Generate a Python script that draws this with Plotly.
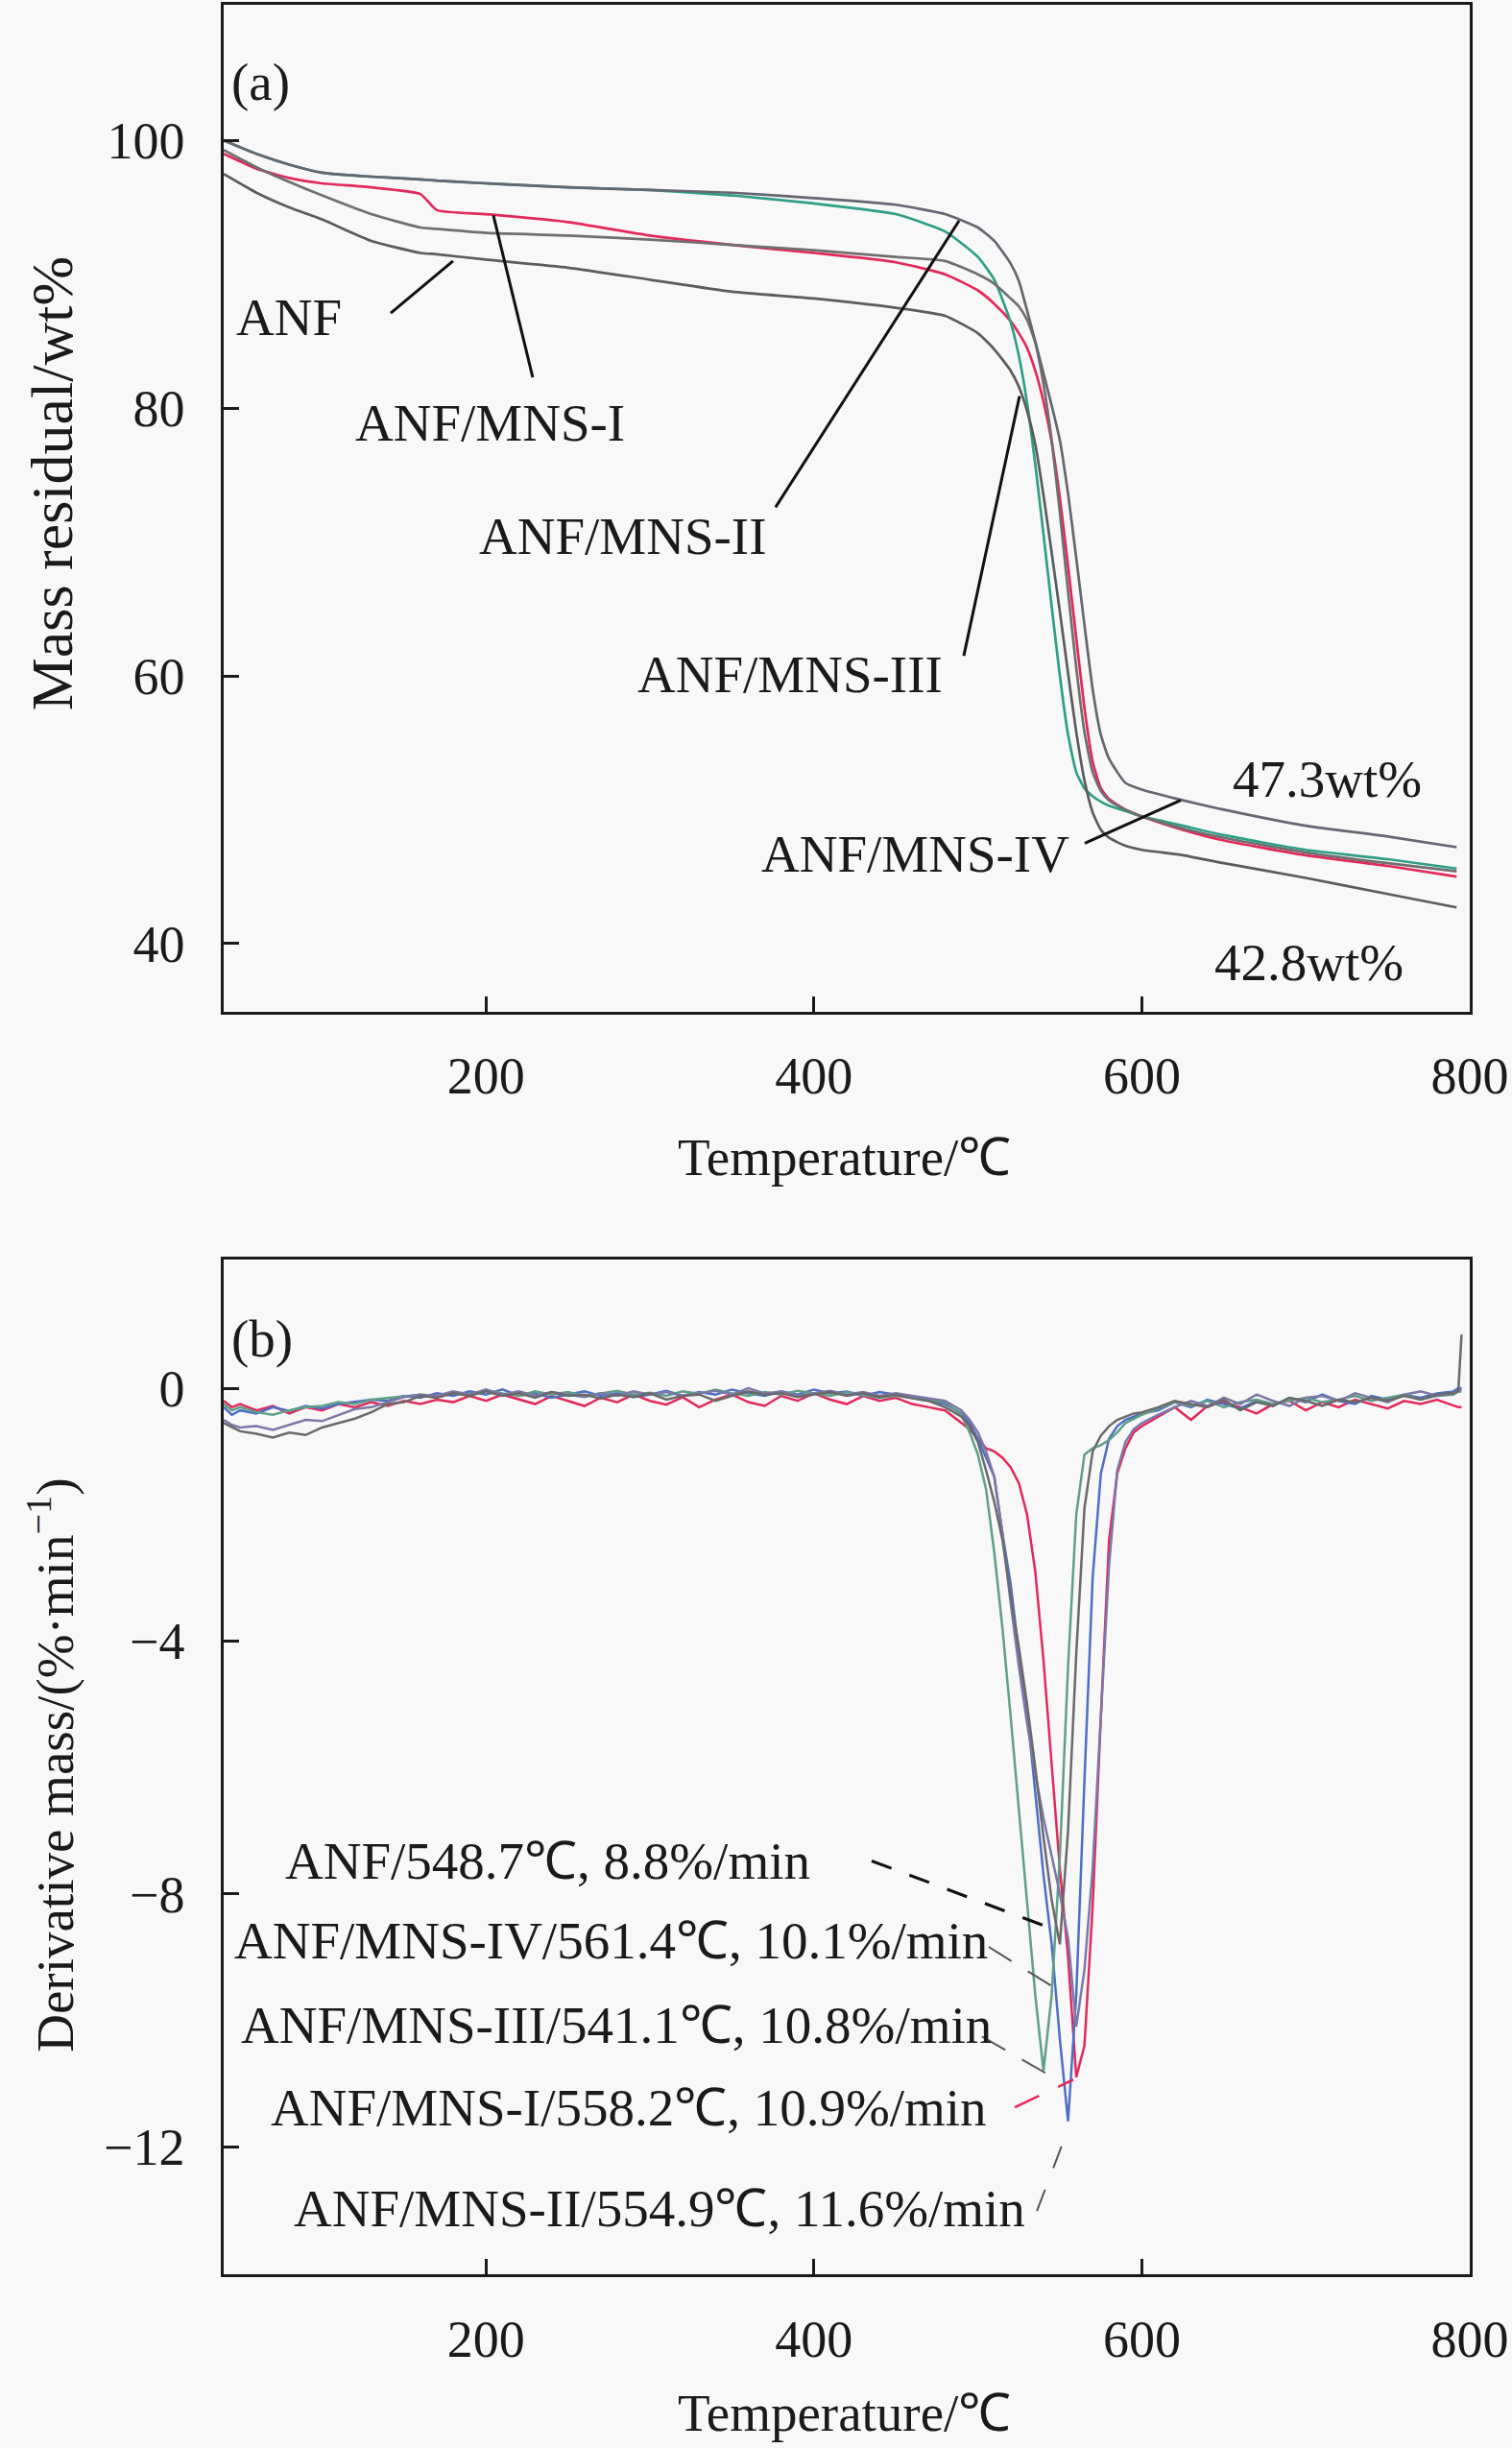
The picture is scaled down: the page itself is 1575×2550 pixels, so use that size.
import plotly.graph_objects as go

# ---------------- (a) TGA data ----------------
tga_temp = [40, 60, 80, 100, 130, 160, 170, 200, 250, 300, 350, 400, 450, 480, 500, 510, 520,
            525, 530, 535, 540, 545, 550, 555, 560, 565, 570, 575, 580, 590, 600, 625, 650, 700, 750, 792]
tga_anf = [97.5, 96.1, 95.0, 94.1, 92.5, 91.6, 91.5, 91.1, 90.5, 89.6, 88.7, 88.2, 87.5, 86.9, 85.6, 84.4, 82.8,
           81.6, 79.8, 77.3, 73.5, 69.2, 64.8, 60.2, 55.8, 52.2, 49.8, 48.5, 47.9, 47.3, 47.0, 46.6, 46.0, 44.9, 43.7, 42.7]
tga_mns1 = [99.0, 97.9, 97.2, 96.8, 96.5, 96.0, 94.8, 94.5, 93.9, 92.9, 92.2, 91.6, 90.9, 90.0, 88.8, 87.8, 86.5,
            85.6, 84.5, 82.8, 80.5, 77.5, 73.3, 68.2, 62.8, 57.6, 53.6, 51.6, 50.8, 50.0, 49.5, 48.5, 47.7, 46.6, 45.8, 45.0]
tga_mns2 = [99.3, 98.0, 96.9, 95.9, 94.5, 93.5, 93.4, 93.1, 92.9, 92.6, 92.2, 91.8, 91.3, 91.0, 90.0, 89.3, 88.2,
            87.6, 86.6, 84.9, 81.8, 77.6, 72.2, 66.3, 60.6, 55.8, 52.8, 51.4, 50.7, 50.0, 49.5, 48.6, 47.9, 46.8, 46.0, 45.4]
tga_mns3 = [100.0, 99.0, 98.2, 97.6, 97.3, 97.1, 97.0, 96.8, 96.5, 96.3, 95.9, 95.3, 94.5, 93.2, 91.3, 89.6, 86.4,
            83.9, 80.4, 75.8, 70.6, 65.2, 60.0, 55.6, 52.8, 51.6, 51.0, 50.6, 50.3, 49.9, 49.5, 48.8, 48.1, 47.0, 46.3, 45.6]
tga_mns4 = [100.0, 99.0, 98.2, 97.6, 97.3, 97.1, 97.0, 96.8, 96.5, 96.3, 96.1, 95.7, 95.2, 94.5, 93.5, 92.5, 90.8,
            89.5, 87.3, 85.0, 82.6, 80.2, 77.6, 73.6, 68.8, 63.8, 59.0, 55.6, 53.8, 52.0, 51.5, 50.7, 50.0, 48.8, 48.0, 47.2]

# ---------------- (b) DTG data ----------------
dtg_temp = ([40, 45, 50] + list(range(60, 480, 10)) + [480, 490] +
            list(range(495, 605, 5)) + list(range(610, 800, 10)) + [793, 795])
dtg_anf = ([-0.55, -0.62, -0.68, -0.72, -0.78, -0.70, -0.74, -0.62, -0.55, -0.48, -0.38, -0.25, -0.22] +
           [-0.12, -0.15, -0.08, -0.12, -0.05, -0.12, -0.08, -0.15, -0.06, -0.12, -0.10, -0.16, -0.10, -0.14, -0.08, -0.18,
            -0.12, -0.10, -0.20, -0.12, -0.05, -0.10, -0.08, -0.14, -0.10, -0.06, -0.12, -0.08, -0.14, -0.10, -0.16, -0.20] +
           [-0.30, -0.45] +
           [-0.6, -0.85, -1.3, -1.8, -2.4, -3.3, -4.1, -5.0, -6.0, -7.1, -8.1, -8.8, -7.0, -4.2, -1.9, -1.0, -0.75, -0.6,
            -0.5, -0.45, -0.4, -0.38] +
           [-0.30, -0.20, -0.25, -0.30, -0.18, -0.35, -0.22, -0.28, -0.15, -0.20, -0.28, -0.18, -0.22, -0.15, -0.20, -0.12,
            -0.18, -0.10, -0.08] +
           [-0.05, 0.85])
dtg_mns1 = ([-0.2, -0.3, -0.25, -0.35, -0.28, -0.4, -0.3, -0.35, -0.25, -0.3, -0.22, -0.28, -0.2] +
            [-0.25, -0.18, -0.22, -0.12, -0.2, -0.1, -0.18, -0.25, -0.12, -0.2, -0.28, -0.15, -0.22, -0.1, -0.2, -0.26,
             -0.14, -0.3, -0.18, -0.1, -0.22, -0.28, -0.12, -0.2, -0.08, -0.18, -0.25, -0.12, -0.2, -0.15, -0.25, -0.3] +
            [-0.35, -0.55] +
            [-0.65, -0.8, -0.95, -1.0, -1.1, -1.25, -1.5, -2.0, -2.9, -4.3, -5.9, -7.6, -9.0, -10.9, -10.4, -8.2, -5.2,
             -2.4, -1.35, -0.95, -0.7, -0.6] +
            [-0.45, -0.3, -0.5, -0.28, -0.22, -0.3, -0.4, -0.25, -0.2, -0.35, -0.22, -0.3, -0.18, -0.25, -0.32, -0.2,
             -0.25, -0.18, -0.28] +
            [-0.3, -0.3])
dtg_mns2 = ([-0.3, -0.42, -0.35, -0.4, -0.3, -0.36, -0.28, -0.32, -0.25, -0.22, -0.18, -0.2, -0.12] +
            [-0.15, -0.08, -0.12, -0.05, -0.1, -0.02, -0.12, -0.08, -0.15, -0.1, -0.05, -0.12, -0.08, -0.14, -0.1, -0.04,
             -0.12, -0.06, -0.1, -0.02, -0.08, -0.12, -0.05, -0.1, -0.02, -0.08, -0.05, -0.12, -0.06, -0.1, -0.15, -0.2] +
            [-0.25, -0.4] +
            [-0.55, -0.8, -1.1, -1.4, -2.3, -3.1, -4.2, -5.1, -6.4, -7.7, -8.8, -10.3, -11.6, -9.6, -6.2, -3.0, -1.35,
             -0.8, -0.6, -0.5, -0.45, -0.4] +
            [-0.35, -0.22, -0.3, -0.18, -0.25, -0.32, -0.2, -0.28, -0.15, -0.22, -0.1, -0.2, -0.25, -0.12, -0.18, -0.1,
             -0.15, -0.08, -0.05] +
            [0.0, 0.0])
dtg_mns3 = ([-0.25, -0.35, -0.3, -0.38, -0.42, -0.35, -0.3, -0.28, -0.22, -0.25, -0.18, -0.15, -0.12] +
            [-0.1, -0.14, -0.06, -0.1, -0.03, -0.08, -0.12, -0.05, -0.1, -0.06, -0.12, -0.08, -0.04, -0.1, -0.07, -0.12,
             -0.05, -0.09, -0.02, -0.08, -0.12, -0.06, -0.1, -0.04, -0.08, -0.12, -0.06, -0.1, -0.15, -0.12, -0.15, -0.18] +
            [-0.22, -0.42] +
            [-0.7, -1.05, -1.6, -2.6, -3.8, -5.2, -6.7, -8.2, -9.6, -10.8, -9.6, -7.4, -4.4, -2.0, -1.05, -0.95, -0.9,
             -0.82, -0.7, -0.55, -0.48, -0.42] +
            [-0.32, -0.22, -0.28, -0.2, -0.3, -0.22, -0.18, -0.25, -0.2, -0.15, -0.22, -0.18, -0.12, -0.2, -0.15, -0.1,
             -0.18, -0.12, -0.1] +
            [-0.05, -0.05])
dtg_mns4 = ([-0.5, -0.58, -0.62, -0.6, -0.66, -0.58, -0.5, -0.52, -0.42, -0.33, -0.3, -0.22, -0.14] +
            [-0.1, -0.12, -0.05, -0.1, -0.02, -0.1, -0.05, -0.12, -0.06, -0.1, -0.14, -0.08, -0.12, -0.05, -0.1, -0.06,
             -0.12, -0.08, -0.04, -0.1, 0.0, -0.08, -0.05, -0.12, -0.08, -0.04, -0.1, -0.06, -0.12, -0.08, -0.12, -0.16] +
            [-0.2, -0.35] +
            [-0.5, -0.7, -1.0, -1.4, -2.3, -3.4, -4.4, -5.3, -6.1, -6.8, -7.4, -8.0, -8.7, -10.1, -9.2, -7.6, -5.2,
             -2.8, -1.3, -0.85, -0.65, -0.55] +
            [-0.42, -0.3, -0.2, -0.28, -0.15, -0.25, -0.1, -0.2, -0.28, -0.15, -0.12, -0.2, -0.08, -0.15, -0.22, -0.1,
             -0.05, -0.12, -0.08] +
            [-0.02, -0.02])

# tick labels
x_ticks = [200, 400, 600, 800]
ya_ticks = [40, 60, 80, 100]
yb_ticks = [-12, -8, -4, 0]

FONT = "Liberation Serif, Times New Roman, serif"
INK = "#1a1a1a"
BG = "#f8f8f8"

fig = go.Figure()

tga_series = [
    (tga_mns1, "#e2295c"),
    (tga_mns3, "#2f9f86"),
    (tga_mns2, "#6f6f6f"),
    (tga_mns4, "#666670"),
    (tga_anf, "#5c5c5c"),
]
for vals, col in tga_series:
    fig.add_trace(go.Scatter(x=tga_temp, y=vals, xaxis="x", yaxis="y", mode="lines",
                             line=dict(color=col, width=2.7, shape="spline", smoothing=0.5),
                             showlegend=False, hoverinfo="skip"))

dtg_series = [
    (dtg_mns1, "#e2295c"),
    (dtg_mns2, "#4d6fc4"),
    (dtg_mns3, "#5f9f88"),
    (dtg_mns4, "#7c78a8"),
    (dtg_anf, "#6a6a6a"),
]
for vals, col in dtg_series:
    fig.add_trace(go.Scatter(x=dtg_temp, y=vals, xaxis="x2", yaxis="y2", mode="lines",
                             line=dict(color=col, width=2.5),
                             showlegend=False, hoverinfo="skip"))

axis_common = dict(showline=True, linecolor=INK, linewidth=2.5, mirror=True,
                   ticks="inside", ticklen=16, tickwidth=2.5, tickcolor=INK,
                   showgrid=False, zeroline=False,
                   tickfont=dict(family=FONT, size=54, color=INK))

fig.update_layout(
    width=1575, height=2550,
    margin=dict(l=233, r=44, t=2, b=181),
    paper_bgcolor=BG, plot_bgcolor=BG,
    xaxis=dict(range=[40, 800], tickvals=x_ticks, domain=[0, 1], anchor="y",
               ticklabelstandoff=18, **axis_common),
    yaxis=dict(range=[34.92, 110.14], tickvals=ya_ticks, domain=[0.5564, 1], anchor="x",
               ticklabelstandoff=27, **axis_common),
    xaxis2=dict(range=[40, 800], tickvals=x_ticks, domain=[0, 1], anchor="y2",
                ticklabelstandoff=18, **axis_common),
    yaxis2=dict(range=[-14.02, 2.04], tickvals=yb_ticks, domain=[0, 0.4472], anchor="x2",
                ticklabelstandoff=27, **axis_common),
)

TXT = dict(family=FONT, size=55, color=INK)

ann = []
# axis titles
ann.append(dict(text="Temperature/℃", xref="paper", yref="paper", x=0.4977, y=0.4922,
                showarrow=False, font=TXT, xanchor="center", yanchor="middle"))
ann.append(dict(text="Temperature/℃", xref="paper", yref="paper", x=0.4977, y=-0.0613,
                showarrow=False, font=TXT, xanchor="center", yanchor="middle"))
ann.append(dict(text="Mass residual/wt%", xref="paper", yref="paper", x=-0.1379, y=0.7892,
                showarrow=False, font=dict(family=FONT, size=62, color=INK), textangle=-90,
                xanchor="center", yanchor="middle"))
ann.append(dict(text="Derivative mass/(%·min<sup>−1</sup>)", xref="paper", yref="paper", x=-0.1379, y=0.2243,
                showarrow=False, font=dict(family=FONT, size=55, color=INK), textangle=-90,
                xanchor="center", yanchor="middle"))

# panel (a) labels
a_labels = [
    ("(a)", 62.8, 104.4),
    ("ANF", 79.8, 86.8),
    ("ANF/MNS-I", 202.2, 78.9),
    ("ANF/MNS-II", 283.0, 70.45),
    ("ANF/MNS-III", 385.4, 60.1),
    ("ANF/MNS-IV", 462.1, 46.7),
    ("47.3wt%", 713.3, 52.3),
    ("42.8wt%", 702.2, 38.6),
]
for t, x, y in a_labels:
    ann.append(dict(text=t, xref="x", yref="y", x=x, y=y, showarrow=False, font=TXT,
                    xanchor="center", yanchor="middle"))

b_labels = [
    ("(b)", 63.4, 0.79),
    ("ANF/548.7℃, 8.8%/min", 237.9, -7.48),
    ("ANF/MNS-IV/561.4℃, 10.1%/min", 276.5, -8.74),
    ("ANF/MNS-III/541.1℃, 10.8%/min", 279.5, -10.08),
    ("ANF/MNS-I/558.2℃, 10.9%/min", 287.1, -11.39),
    ("ANF/MNS-II/554.9℃, 11.6%/min", 305.8, -12.98),
]
for t, x, y in b_labels:
    ann.append(dict(text=t, xref="x2", yref="y2", x=x, y=y, showarrow=False, font=TXT,
                    xanchor="center", yanchor="middle"))

fig.update_layout(annotations=ann)

shapes = []
a_leaders = [
    (141.9, 87.1, 179.9, 91.0),
    (228.5, 82.3, 204.5, 94.4),
    (376.6, 72.6, 488.5, 94.0),
    (491.4, 61.5, 525.4, 80.9),
    (565.2, 47.5, 623.7, 50.7),
]
for x0, y0, x1, y1 in a_leaders:
    shapes.append(dict(type="line", xref="x", yref="y", x0=x0, y0=y0, x1=x1, y1=y1,
                       line=dict(color="#111111", width=3)))

b_leaders = [
    (435.2, -7.48, 540.0, -8.50, "#111111", 3, "22px,20px"),
    (506.6, -8.84, 547.6, -9.50, "#555555", 2, "28px,20px"),
    (502.5, -10.26, 542.9, -10.86, "#555555", 2, "28px,20px"),
    (522.5, -11.38, 558.2, -10.94, "#e2295c", 2.5, "28px,22px"),
    (536.0, -13.02, 553.6, -11.82, "#555555", 2, "24px,24px"),
]
for x0, y0, x1, y1, c, w, d in b_leaders:
    shapes.append(dict(type="line", xref="x2", yref="y2", x0=x0, y0=y0, x1=x1, y1=y1,
                       line=dict(color=c, width=w, dash=d)))

fig.update_layout(shapes=shapes)

fig.write_html("out.html", config={"displayModeBar": False},
               post_script="document.body.style.margin='0';document.body.style.overflow='hidden';")
